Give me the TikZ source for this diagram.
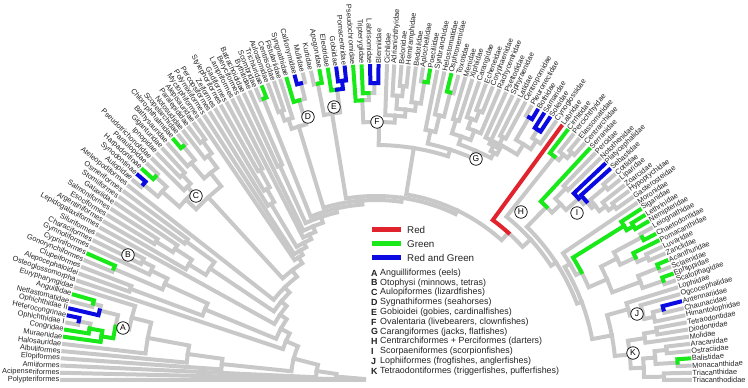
\documentclass[tikz,border=0pt]{standalone}
\usepackage{fontspec}
\setmainfont{Liberation Sans}
\pgfdeclarelayer{bg}\pgfdeclarelayer{fg}\pgfdeclarelayer{top}
\pgfsetlayers{bg,main,fg,top}
\definecolor{tgrey}{RGB}{200,200,200}
\definecolor{tgreen}{RGB}{25,232,25}
\definecolor{tblue}{RGB}{10,10,225}
\definecolor{tred}{RGB}{225,35,45}
\definecolor{ltext}{RGB}{35,35,35}
\makeatletter
\newcommand\ftip[2]{%
  \ifnum#1<40 \pgfmathsetmacro\ft@a{180-(#1-1)*1.313869}%
  \else\ifnum#1<60 \pgfmathsetmacro\ft@a{130.07-(#1-39)*1.1785}%
  \else\ifnum#1<72 \pgfmathsetmacro\ft@a{106.5-(#1-59)*1.54167}%
  \else \pgfmathsetmacro\ft@a{88-(#1-71)*1.313433}\fi\fi\fi
  \expandafter\xdef\csname ang@#1\endcsname{\ft@a}%
  \expandafter\xdef\csname rad@#1\endcsname{314}%
  \coordinate (n-#1) at (\ft@a:314pt);
  \ifdim\ft@a pt>90pt
    \pgfmathsetmacro\ft@r{\ft@a-180}%
    \node[lab,anchor=east,rotate=\ft@r] (l-#1) at (\ft@a:316.5pt) {#2};
  \else
    \node[lab,anchor=west,rotate=\ft@a] (l-#1) at (\ft@a:316.5pt) {#2};
  \fi}
\newcommand\fedge[3]{%
  \edef\fe@pa{\csname ang@#1\endcsname}\edef\fe@pr{\csname rad@#1\endcsname}%
  \edef\fe@ca{\csname ang@#2\endcsname}%
  \if g#3%
    \begin{pgfonlayer}{bg}\draw[eg] (n-#1) arc[start angle=\fe@pa,end angle=\fe@ca,radius=\fe@pr pt] -- (n-#2);\end{pgfonlayer}%
  \else
    \begin{pgfonlayer}{fg}\draw[e#3] (n-#1) arc[start angle=\fe@pa,end angle=\fe@ca,radius=\fe@pr pt] -- (n-#2);\end{pgfonlayer}%
  \fi}
\newcommand\fnode[6]{%
  \edef\fn@a{\csname ang@#3\endcsname}\edef\fn@b{\csname ang@#4\endcsname}%
  \pgfmathsetmacro\fn@m{(\fn@a+\fn@b)/2}%
  \expandafter\xdef\csname ang@#1\endcsname{\fn@m}%
  \expandafter\xdef\csname rad@#1\endcsname{#2}%
  \coordinate (n-#1) at (\fn@m:#2pt);
  \fedge{#1}{#3}{#5}\fedge{#1}{#4}{#6}}
\newcommand\gn[4]{\fnode{#1}{#2}{#3}{#4}{g}{g}}
\makeatother
\begin{document}
\begin{tikzpicture}[x=1pt,y=1pt,
  lab/.style={font=\fontsize{7.4}{8}\selectfont, text=ltext, inner sep=0pt},
  eg/.style={draw=tgrey,line width=4pt,line cap=rect,line join=miter},
  eG/.style={draw=tgreen,line width=4pt,line cap=rect,line join=miter},
  eB/.style={draw=tblue,line width=4pt,line cap=rect,line join=miter},
  eR/.style={draw=tred,line width=4pt,line cap=rect,line join=miter},
  circ/.style={circle,draw=black,line width=0.7pt,fill=white,inner sep=0pt,minimum size=12.5pt,font=\fontsize{8.5}{8.5}\selectfont},
  swatch/.style={rectangle,inner sep=0pt,minimum width=29pt,minimum height=5pt},
  legt/.style={anchor=west,inner sep=0pt,font=\fontsize{9.8}{10}\selectfont,text=ltext},
  legl/.style={anchor=west,inner sep=0pt,font=\fontsize{8.9}{9}\selectfont\bfseries,text=ltext},
  legx/.style={anchor=west,inner sep=0pt,font=\fontsize{8.9}{9}\selectfont,text=ltext}]
\useasboundingbox (0,0) rectangle (748,388);
\begin{scope}[shift={(376,8)}]
\ftip{1}{Polypteriformes}
\ftip{2}{Acipenseriformes}
\ftip{3}{Amiiformes}
\ftip{4}{Elopiformes}
\ftip{5}{Albuliformes}
\ftip{6}{Halosauridae}
\ftip{7}{Muraenidae}
\ftip{8}{Congridae}
\ftip{9}{Ophichthidae I}
\ftip{10}{Heterocongrinae}
\ftip{11}{Ophichthidae II}
\ftip{12}{Nettastomatidae}
\ftip{13}{Anguillidae}
\ftip{14}{Eurypharyngidae}
\ftip{15}{Osteoglossomorpha}
\ftip{16}{Alepocephaloidei}
\ftip{17}{Clupeiformes}
\ftip{18}{Gonorynchiformes}
\ftip{19}{Cypriniformes}
\ftip{20}{Gymnotiformes}
\ftip{21}{Characiformes}
\ftip{22}{Siluriformes}
\ftip{23}{Lepidogalaxiiformes}
\ftip{24}{Argentiniformes}
\ftip{25}{Esociformes}
\ftip{26}{Salmoniformes}
\ftip{27}{Galaxiidae}
\ftip{28}{Stomiiformes}
\ftip{29}{Osmeriformes}
\ftip{30}{Ateleopodiformes}
\ftip{31}{Aulopidae}
\ftip{32}{Synodontinae}
\ftip{33}{Harpadontinae}
\ftip{34}{Paraulopidae}
\ftip{35}{Pseudotrichonotidae}
\ftip{36}{Ipnopidae}
\ftip{37}{Giganturidae}
\ftip{38}{Bathysauridae}
\ftip{39}{Chlorophthalmidae}
\ftip{40}{Scopelarchidae}
\ftip{41}{Notosudidae}
\ftip{42}{Paralepididae}
\ftip{43}{Alepisauridae}
\ftip{44}{Myctophiformes}
\ftip{45}{Polymixiiformes}
\ftip{46}{Percopsiformes}
\ftip{47}{Zeiformes}
\ftip{48}{Stylephoriformes}
\ftip{49}{Gadiformes}
\ftip{50}{Lampriformes}
\ftip{51}{Beryciformes}
\ftip{52}{Batrachoididae}
\ftip{53}{Bythitidae}
\ftip{54}{Scombridae}
\ftip{55}{Trichiuridae}
\ftip{56}{Aulostomidae}
\ftip{57}{Centriscidae}
\ftip{58}{Fistulariidae}
\ftip{59}{Syngnathidae}
\ftip{60}{Callionymidae}
\ftip{61}{Mullidae}
\ftip{62}{Kurtidae}
\ftip{63}{Apogonidae}
\ftip{64}{Eleotridae}
\ftip{65}{Gobiidae}
\ftip{66}{Pomacentridae}
\ftip{67}{Pseudochromidae}
\ftip{68}{Tripterygiidae}
\ftip{69}{Labrisomidae}
\ftip{70}{Blenniidae}
\ftip{71}{Cichlidae}
\ftip{72}{Adrianichthyidae}
\ftip{73}{Belonidae}
\ftip{74}{Hemiramphidae}
\ftip{75}{Bedotiidae}
\ftip{76}{Aplocheilidae}
\ftip{77}{Poeciliidae}
\ftip{78}{Synbranchidae}
\ftip{79}{Helostomatidae}
\ftip{80}{Osphronemidae}
\ftip{81}{Toxotidae}
\ftip{82}{Menidae}
\ftip{83}{Xiphiidae}
\ftip{84}{Carangidae}
\ftip{85}{Echeneidae}
\ftip{86}{Coryphaenidae}
\ftip{87}{Rachycentridae}
\ftip{88}{Psettodidae}
\ftip{89}{Sphyraenidae}
\ftip{90}{Latidae}
\ftip{91}{Centropomidae}
\ftip{92}{Pleuronectidae}
\ftip{93}{Bothidae}
\ftip{94}{Samaridae}
\ftip{95}{Soleidae}
\ftip{96}{Cynoglossidae}
\ftip{97}{Labridae}
\ftip{98}{Cirrhitidae}
\ftip{99}{Percichthyidae}
\ftip{100}{Elassomatidae}
\ftip{101}{Centrarchidae}
\ftip{102}{Serranidae}
\ftip{103}{Percidae}
\ftip{104}{Notothenidae}
\ftip{105}{Platycephalidae}
\ftip{106}{Sebastidae}
\ftip{107}{Cottidae}
\ftip{108}{Liparidae}
\ftip{109}{Zoarcidae}
\ftip{110}{Hypoptychidae}
\ftip{111}{Gasterosteidae}
\ftip{112}{Moronidae}
\ftip{113}{Siganidae}
\ftip{114}{Lethrinidae}
\ftip{115}{Nemipteridae}
\ftip{116}{Leiognathidae}
\ftip{117}{Chaetodontidae}
\ftip{118}{Pomacanthidae}
\ftip{119}{Luvaridae}
\ftip{120}{Zanclidae}
\ftip{121}{Acanthuridae}
\ftip{122}{Sciaenidae}
\ftip{123}{Ephippidae}
\ftip{124}{Scatophagidae}
\ftip{125}{Lophiidae}
\ftip{126}{Ogcocephalidae}
\ftip{127}{Antennariidae}
\ftip{128}{Chaunacidae}
\ftip{129}{Himantolophidae}
\ftip{130}{Tetraodontidae}
\ftip{131}{Diodontidae}
\ftip{132}{Molidae}
\ftip{133}{Aracanidae}
\ftip{134}{Ostraciidae}
\ftip{135}{Balistidae}
\ftip{136}{Monacanthidae}
\ftip{137}{Triacanthidae}
\ftip{138}{Triacanthodidae}
% Elopomorpha
\fnode{ea}{303}{9}{10}{g}{B}
\fnode{ec1}{291}{8}{ea}{G}{g}
\fnode{ec2}{278}{7}{ec1}{G}{G}
\fnode{eg}{293}{12}{13}{g}{G}
\fnode{eb}{285}{11}{eg}{B}{g}
\fnode{ed}{266}{ec2}{eb}{G}{g}
\gn{ee}{252}{ed}{14}
\gn{el1}{232}{6}{ee}
\gn{el2}{190}{5}{el1}
\gn{el3}{155}{4}{el2}
% Otomorpha
\gn{clu}{262}{16}{17}
\fnode{gon}{285}{18}{19}{g}{G}
\gn{ot1}{262}{21}{22}
\gn{ot2}{250}{20}{ot1}
\gn{ost}{232}{gon}{ot2}
\gn{oto}{185}{clu}{ost}
% Protacanthopterygii, Stomiati
\gn{pr1}{260}{25}{26}
\gn{pr2}{240}{pr1}{27}
\gn{pr3}{220}{24}{pr2}
\gn{st}{235}{28}{29}
\gn{pst}{200}{pr3}{st}
% Aulopiformes
\fnode{ca}{304}{31}{32}{g}{B}
\fnode{cb}{300}{33}{34}{G}{g}
\gn{cab}{285}{ca}{cb}
\gn{ce}{282}{36}{37}
\gn{cf}{270}{35}{ce}
\gn{cg}{262}{cab}{cf}
\fnode{c7}{303}{39}{40}{G}{g}
\gn{ch}{285}{38}{c7}
\gn{c9}{295}{42}{43}
\gn{c8}{280}{41}{c9}
\gn{c10}{265}{ch}{c8}
\gn{CC}{248}{cg}{c10}
% Paracanthomorphacea
\gn{pa3}{240}{48}{49}
\gn{pa2}{220}{47}{pa3}
\gn{pa1}{205}{46}{pa2}
% Percomorpha
\gn{pb}{235}{52}{53}
\fnode{pel}{303}{54}{55}{g}{G}
\gn{d1}{285}{56}{57}
\gn{d2}{275}{d1}{58}
\fnode{d4}{306}{60}{61}{B}{g}
\fnode{d3}{290}{59}{d4}{G}{g}
\gn{D}{265}{d2}{d3}
\fnode{e1}{302}{62}{63}{g}{G}
\fnode{e3}{301}{65}{66}{B}{B}
\fnode{e2}{293}{64}{e3}{G}{B}
\gn{E}{270}{e1}{e2}
\fnode{f1}{297}{69}{70}{B}{B}
\fnode{f2}{287}{68}{f1}{G}{g}
\fnode{f3}{280}{67}{f2}{G}{g}
\gn{f7}{295}{73}{74}
\gn{f8}{285}{72}{f7}
\fnode{f9}{302}{76}{77}{g}{G}
\gn{f10}{280}{75}{f9}
\gn{f11}{272}{f8}{f10}
\gn{f12}{265}{71}{f11}
\gn{F}{258}{f3}{f12}
\fnode{an1}{297}{80}{81}{G}{g}
\gn{an2}{272}{79}{an1}
\gn{an3}{255}{78}{an2}
\gn{car5}{272}{82}{83}
\gn{car1}{288}{85}{86}
\gn{car2}{278}{84}{car1}
\gn{car3}{268}{car2}{87}
\gn{car6}{258}{car5}{car3}
\fnode{fla}{304}{92}{93}{g}{B}
\fnode{flb}{298}{94}{95}{B}{B}
\gn{flc}{288}{flb}{96}
\gn{fld}{278}{fla}{flc}
\gn{flat}{266}{88}{fld}
\gn{sph}{274}{90}{91}
\gn{flf}{262}{89}{sph}
\gn{fl7}{256}{flf}{flat}
\gn{carang}{250}{car6}{fl7}
\gn{G}{242}{an3}{carang}
\gn{OCA}{235}{F}{G}
% Eupercaria
\gn{h1}{300}{100}{101}
\gn{h2}{293}{99}{h1}
\fnode{h3}{286}{98}{h2}{G}{g}
\gn{i4}{300}{107}{108}
\gn{i5}{295}{110}{111}
\gn{i6}{288}{109}{i5}
\gn{i7}{280}{i4}{i6}
\fnode{i2}{276}{106}{i7}{B}{g}
\fnode{i3}{272}{105}{i2}{B}{g}
\gn{pq}{270}{103}{104}
\gn{pbb}{255}{pq}{i3}
\fnode{pc}{243}{102}{pbb}{G}{g}
\fnode{g1}{300}{114}{115}{G}{G}
\fnode{g2}{292}{113}{g1}{G}{G}
\fnode{q1}{302}{116}{117}{g}{G}
\gn{q3}{298}{119}{120}
\fnode{q2}{287}{118}{q3}{G}{g}
\gn{q4}{270}{q1}{q2}
\fnode{q5}{304}{121}{122}{G}{g}
\fnode{q6}{304}{123}{124}{G}{g}
\gn{q7}{282}{q5}{q6}
\gn{q8}{252}{q4}{q7}
\fnode{m2}{232}{g2}{q8}{G}{g}
\gn{mid}{226}{112}{m2}
\fnode{j1}{296}{127}{128}{B}{g}
\gn{j2}{285}{j1}{129}
\gn{j3}{275}{126}{j2}
\gn{J}{262}{125}{j3}
\gn{k1}{285}{130}{131}
\gn{k2}{272}{k1}{132}
\gn{k3}{292}{133}{134}
\fnode{k4}{302}{135}{136}{G}{g}
\gn{k5}{280}{k3}{k4}
\gn{k6}{288}{137}{138}
\gn{k7}{268}{k5}{k6}
\gn{K}{255}{k2}{k7}
\gn{JK}{240}{J}{K}
\gn{Z}{220}{mid}{JK}
\gn{Y}{215}{pc}{Z}
\gn{H2}{209}{h3}{Y}
\fnode{H}{198}{97}{H2}{R}{g}
% spine
\gn{p5}{188}{OCA}{H}
\gn{p4}{184}{E}{p5}
\gn{p3}{180}{D}{p4}
\gn{p2}{176}{pel}{p3}
\gn{perc}{172}{pb}{p2}
\gn{acp}{166}{51}{perc}
\gn{ac3b}{160}{50}{acp}
\gn{acm2}{155}{pa1}{ac3b}
\gn{acm}{150}{45}{acm2}
\gn{cten}{145}{44}{acm}
\gn{eury}{138}{CC}{cten}
\gn{neot}{130}{30}{eury}
\gn{eu2}{123}{pst}{neot}
\gn{eut}{116}{23}{eu2}
\gn{clc}{108}{oto}{eut}
\gn{oc}{98}{15}{clc}
\gn{tel}{85}{el3}{oc}
\gn{neo}{60}{3}{tel}
\gn{act}{40}{2}{neo}
\gn{root}{12}{1}{act}
\end{scope}
\begin{pgfonlayer}{top}
\node[circ] (cA) at (123,60) {A};
\node[circ] (cB) at (128,133) {B};
\node[circ] (cC) at (196,192) {C};
\node[circ] (cD) at (308,271) {D};
\node[circ] (cE) at (334,281) {E};
\node[circ] (cF) at (377,266) {F};
\node[circ] (cG) at (476,229) {G};
\node[circ] (cH) at (521,176) {H};
\node[circ] (cI) at (577,175) {I};
\node[circ] (cJ) at (637,74) {J};
\node[circ] (cK) at (633,35) {K};
\node[swatch,fill=tred] (swR) at (386.5,158) {};
\node[swatch,fill=tgreen] (swG) at (386.5,144) {};
\node[swatch,fill=tblue] (swB) at (386.5,130) {};
\node[legt] (tR) at (407,158) {Red};
\node[legt] (tG) at (407,144) {Green};
\node[legt] (tB) at (407,130) {Red and Green};
\foreach \L/\T [count=\i from 0] in {A/{Anguilliformes (eels)},B/{Otophysi (minnows, tetras)},C/{Aulopiformes (lizardfishes)},D/{Sygnathiformes (seahorses)},E/{Gobioidei (gobies, cardinalfishes)},F/{Ovalentaria (livebearers, clownfishes)},G/{Carangiformes (jacks, flatfishes)},H/{Centrarchiformes + Perciformes (darters)},I/{Scorpaeniformes (scorpionfishes)},J/{Lophiiformes (frogfishes, anglerfishes)},K/{Tetraodontiformes (triggerfishes, pufferfishes)}}{
  \node[legl] (ll\L) at (371,{115-9.8*\i}) {\L};
  \node[legx] (lx\L) at (380,{115-9.8*\i}) {\T};
}
\end{pgfonlayer}
\end{tikzpicture}
\end{document}
